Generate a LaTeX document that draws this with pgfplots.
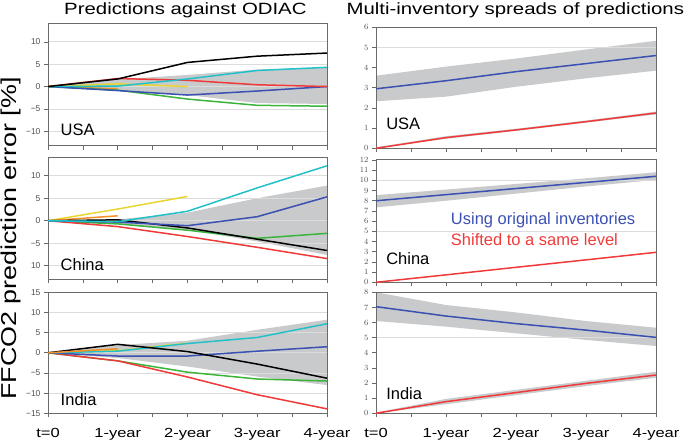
\documentclass[border=0pt]{standalone}
\usepackage{pgfplots}
\pgfplotsset{compat=1.18}
\usepackage{fontspec}
\setmainfont{Liberation Sans}
\newfontfamily\wide{Liberation Sans}[FakeStretch=1.25]
\definecolor{framegray}{HTML}{6A6A6A}
\definecolor{gridgray}{HTML}{DCDCDC}
\definecolor{bandgray}{HTML}{C9CACC}
\definecolor{tickgray}{HTML}{505050}
\definecolor{cyanC}{HTML}{22C1C8}
\definecolor{redC}{HTML}{F03A3A}
\definecolor{blueC}{HTML}{3A50B2}
\definecolor{greenC}{HTML}{3CB43C}
\definecolor{yellowC}{HTML}{E8D630}
\definecolor{orangeC}{HTML}{F39028}
\newcommand\titlefont{\wide\fontsize{16.3}{19}\selectfont}
\newcommand\ylabfont{\wide\fontsize{21.5}{24}\selectfont}
\newcommand\xtfont{\wide\fontsize{13.2}{15}\selectfont}
\newcommand\ytfont{\fontsize{8.5}{10}\selectfont\color{tickgray}}
\newcommand\panelfont{\fontsize{16.5}{19}\selectfont}
\pgfplotsset{
  panel/.style={
    scale only axis, anchor=south west, set layers,
    axis line style={framegray, line width=1pt},
    xmin=0, xmax=4,
    xtick={0,1,2,3,4}, minor xtick={0.5,1.5,2.5,3.5},
    tick align=outside, xtick pos=left, ytick pos=left,
    major tick length=4pt, minor tick length=4pt,
    every tick/.style={framegray, line width=0.7pt},
    xticklabels={},
    grid style={gridgray, line width=0.8pt},
    yticklabel style={font=\ytfont},
    every axis plot/.append style={line width=1.5pt},
  },
  leftpanel/.style={panel, width=279pt, height=122pt, ymajorgrids},
  rightpanel/.style={panel, width=280pt, height=121pt,
    extra y tick style={grid=major}, extra y tick labels={}},
  bottompanel/.style={xticklabels={t=0,1-year,2-year,3-year,4-year},
    xticklabel style={font=\xtfont, anchor=base, yshift=-20pt}},
  band/.style={fill=bandgray, draw=none, on layer=axis background, line width=0pt},
}
\begin{document}
\begin{tikzpicture}
\node[font=\titlefont, anchor=base, inner sep=0pt] at (185.4pt,426pt) {Predictions against ODIAC};
\node[font=\titlefont, anchor=base, inner sep=0pt] at (515.3pt,426pt) {Multi-inventory spreads of predictions};
\node[font=\ylabfont, anchor=base, rotate=90, inner sep=0pt] at (17pt,202.5pt) {FFCO2 prediction error [\%]};

% ---------- Left: USA ----------
\begin{axis}[leftpanel, at={(48pt,295pt)}, ymin=-13.3, ymax=14,
  ytick={-10,-5,0,5,10}, yticklabels={−10,−5,0,5,10}]
\addplot[band] coordinates {(0,0)(1,1.6)(2,2.6)(3,3.8)(4,4.2)(4,-3.9)(3,-3.7)(2,-1.9)(1,-0.9)(0,0)};
\addplot[yellowC] coordinates {(0,0)(1,0.6)(2,0.0)};
\addplot[orangeC] coordinates {(0,0)(1,-0.5)};
\addplot[greenC] coordinates {(0,0)(1,-0.8)(2,-2.8)(3,-4.2)(4,-4.4)};
\addplot[blueC] coordinates {(0,0)(1,-0.9)(2,-1.9)(3,-1.0)(4,0)};
\addplot[redC] coordinates {(0,0)(1,1.8)(2,1.4)(3,0.4)(4,0)};
\addplot[cyanC] coordinates {(0,0)(1,0.1)(2,1.7)(3,3.6)(4,4.3)};
\addplot[black] coordinates {(0,0)(1,1.7)(2,5.4)(3,6.8)(4,7.5)};
\node[font=\panelfont, anchor=west] at (rel axis cs:0.033,0.13) {USA};
\end{axis}

% ---------- Left: China ----------
\begin{axis}[leftpanel, at={(48pt,161.7pt)}, height=121.6pt, ymin=-13, ymax=14,
  ytick={-10,-5,0,5,10}, yticklabels={10,−5,0,5,10}]
\addplot[band] coordinates {(0,0)(1,0.3)(2,1.8)(3,5.0)(4,7.8)(4,-7.6)(3,-4.6)(2,-2.0)(1,-0.7)(0,0)};
\addplot[yellowC] coordinates {(0,0)(1,2.6)(2,5.4)};
\addplot[orangeC] coordinates {(0,0)(1,1.1)};
\addplot[greenC] coordinates {(0,0)(1,-0.7)(2,-2.1)(3,-3.9)(4,-2.8)};
\addplot[redC] coordinates {(0,0)(1,-1.3)(2,-3.5)(3,-5.9)(4,-8.4)};
\addplot[black] coordinates {(0,0)(1,0.2)(2,-1.6)(3,-4.1)(4,-6.6)};
\addplot[blueC] coordinates {(0,0)(1,-0.3)(2,-1.1)(3,0.9)(4,5.3)};
\addplot[cyanC] coordinates {(0,0)(1,-0.2)(2,2.1)(3,7.3)(4,12.2)};
\node[font=\panelfont, anchor=west] at (rel axis cs:0.033,0.12) {China};
\end{axis}

% ---------- Left: India ----------
\begin{axis}[leftpanel, bottompanel, at={(48pt,27.7pt)}, height=121pt, ymin=-15, ymax=15,
  ytick={-15,-10,-5,0,5,10,15}, yticklabels={−15,−10,−5,0,5,10,15}]
\addplot[band] coordinates {(0,0)(1,1.9)(2,3.0)(3,5.7)(4,8.2)(4,-8.0)(3,-5.9)(2,-3.4)(1,-1.3)(0,0)};
\addplot[yellowC] coordinates {(0,0)(1,0.5)(2,2.4)};
\addplot[greenC] coordinates {(0,0)(1,-2.0)(2,-4.8)(3,-6.5)(4,-7.0)};
\addplot[redC] coordinates {(0,0)(1,-2.0)(2,-6.0)(3,-10.4)(4,-13.9)};
\addplot[blueC] coordinates {(0,0)(1,-0.8)(2,-0.8)(3,0.4)(4,1.5)};
\addplot[cyanC] coordinates {(0,0)(1,0.4)(2,2.3)(3,3.8)(4,7.2)};
\addplot[black] coordinates {(0,0)(1,2.1)(2,0.3)(3,-2.8)(4,-6.3)};
\addplot[orangeC] coordinates {(0,0)(1,1.0)};
\node[font=\panelfont, anchor=west] at (rel axis cs:0.033,0.11) {India};
\end{axis}

% ---------- Right: USA ----------
\begin{axis}[rightpanel, at={(376pt,292.7pt)}, ymin=0, ymax=6,
  ytick={0,...,6}, extra y ticks={5}]
\addplot[band] coordinates {(0,3.6)(1,4.05)(2,4.45)(3,4.9)(4,5.33)(4,3.85)(3,3.47)(2,3.05)(1,2.56)(0,2.33)};
\addplot[band] coordinates {(0,0.05)(1,0.6)(2,0.97)(3,1.38)(4,1.82)(4,1.68)(3,1.27)(2,0.86)(1,0.47)(0,0)};
\addplot[blueC] coordinates {(0,2.95)(1,3.35)(2,3.8)(3,4.2)(4,4.6)};
\addplot[redC] coordinates {(0,0)(1,0.53)(2,0.91)(3,1.32)(4,1.75)};
\node[font=\panelfont, anchor=west] at (rel axis cs:0.024,0.2) {USA};
\end{axis}

% ---------- Right: China ----------
\begin{axis}[rightpanel, at={(376pt,158.7pt)}, height=122.3pt, ymin=0, ymax=12,
  ytick={0,...,12}, extra y ticks={5,10}]
\addplot[band] coordinates {(0,8.55)(1,9.1)(2,9.65)(3,10.2)(4,10.8)(4,10.05)(3,9.4)(2,8.7)(1,8.0)(0,7.35)};
\addplot[blueC] coordinates {(0,8.0)(1,8.6)(2,9.2)(3,9.8)(4,10.4)};
\addplot[redC] coordinates {(0,0)(1,0.73)(2,1.47)(3,2.2)(4,2.94)};
\node[font=\panelfont, anchor=west] at (rel axis cs:0.024,0.19) {China};
\node[font=\panelfont, text=blueC, anchor=west] at (axis cs:1.02,6.1) {Using original inventories};
\node[font=\panelfont, text=redC, anchor=west] at (axis cs:1.02,4.22) {Shifted to a same level};
\end{axis}

% ---------- Right: India ----------
\begin{axis}[rightpanel, bottompanel, at={(376pt,27.7pt)}, ymin=0, ymax=8,
  ytick={0,...,8}, extra y ticks={5}]
\addplot[band] coordinates {(0,8.0)(1,7.16)(2,6.67)(3,6.1)(4,5.66)(4,4.45)(3,4.85)(2,5.29)(1,5.73)(0,6.1)};
\addplot[band] coordinates {(0,0.05)(1,0.95)(2,1.55)(3,2.15)(4,2.75)(4,2.35)(3,1.8)(2,1.2)(1,0.6)(0,0)};
\addplot[blueC] coordinates {(0,7.05)(1,6.43)(2,5.93)(3,5.5)(4,5.02)};
\addplot[redC] coordinates {(0,0)(1,0.77)(2,1.37)(3,1.98)(4,2.53)};
\node[font=\panelfont, anchor=west] at (rel axis cs:0.024,0.16) {India};
\end{axis}
\pgfresetboundingbox
\path[use as bounding box] (0,0) rectangle (685pt,441pt);
\end{tikzpicture}
\end{document}
